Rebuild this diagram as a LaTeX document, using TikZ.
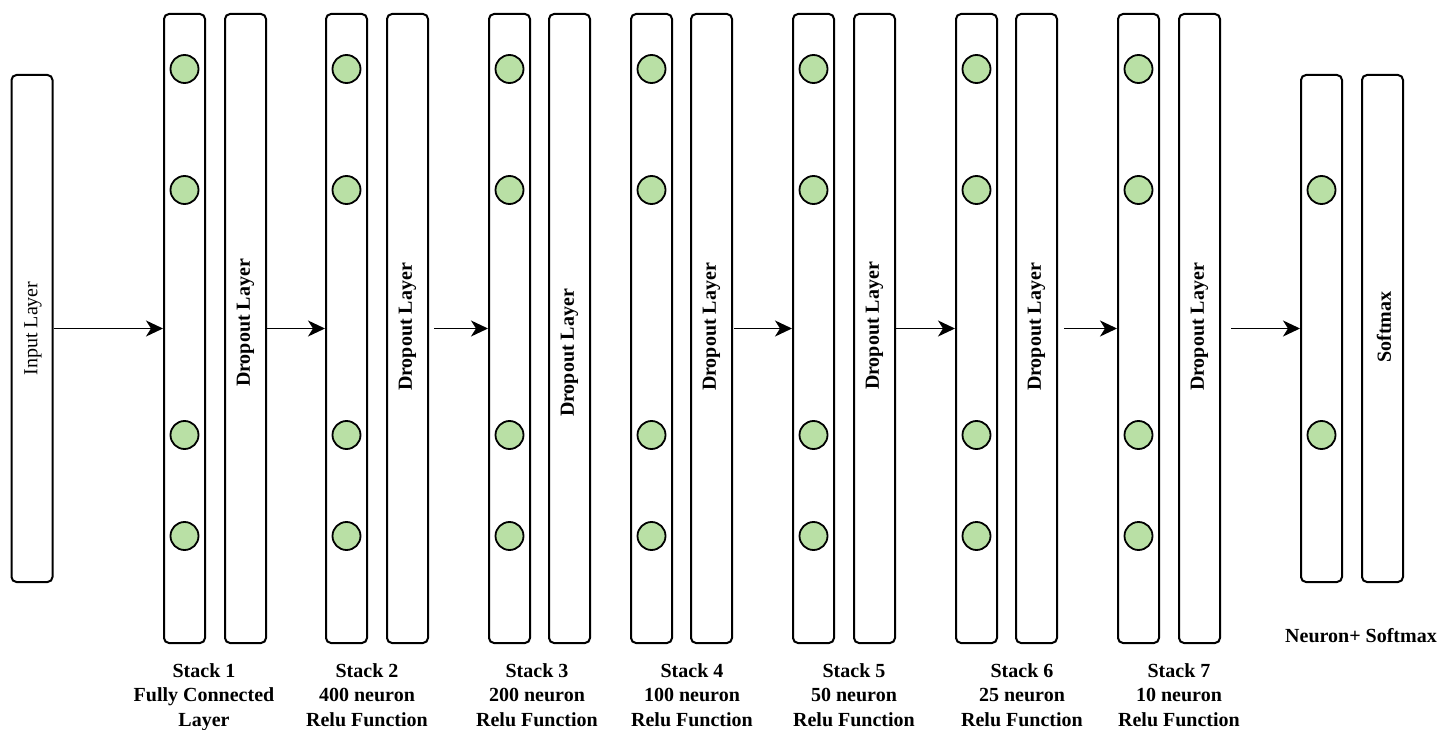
\documentclass[tikz,border=0pt]{standalone}
\usepackage{fontspec}
\setmainfont{Liberation Serif}
\usetikzlibrary{arrows.meta}
\definecolor{neurongreen}{HTML}{B9E0A5}

\begin{document}
\begin{tikzpicture}[x=1pt,y=-1pt,
  layerbox/.style={draw, line width=2pt, rounded corners=5pt,
    minimum width=41pt, inner sep=0pt},
  tallbox/.style={layerbox, minimum height=629pt},
  shortbox/.style={layerbox, minimum height=507pt},
  neuron/.style={circle, draw, line width=1.8pt, fill=neurongreen,
    minimum size=28pt, inner sep=0pt},
  link/.style={line width=1.8pt, -{Stealth[length=17pt,width=16pt,inset=5pt]}},
  boxtext/.style={font=\fontsize{20}{25}\selectfont\bfseries, rotate=90, inner sep=0pt},
  caption/.style={font=\fontsize{20}{24.5}\selectfont\bfseries, align=center,
    anchor=north, inner sep=0pt}]

\useasboundingbox (0,0) rectangle (1441,730);

% input layer
\node[shortbox] (inp) at (32,328.5) {};
\node[font=\fontsize{20}{25}\selectfont, rotate=90, inner sep=0pt] (inptext) at (33,328.5) {Input Layer};

% the seven stacks: dense layer with neurons + dropout layer
\foreach \i/\nx/\dx/\ty in {1/184.5/245.5/323, 2/346.5/407.5/327, 3/509.5/569.5/353,
    4/651.5/711.5/327, 5/813.5/874.5/326, 6/976.5/1036.5/327, 7/1138.5/1199.5/327} {
  \node[tallbox] (s\i-n) at (\nx,328.5) {};
  \node[tallbox] (s\i-d) at (\dx,328.5) {};
  \foreach \y in {69,190,435,536}
    \node[neuron] (s\i-c\y) at (\nx,\y) {};
  \node[boxtext] (s\i-t) at (\dx,\ty) {Dropout Layer};
}

% output neuron layer + softmax
\node[shortbox] (out) at (1321.5,328.5) {};
\node[shortbox] (sm) at (1382.5,328.5) {};
\node[neuron] (out-c1) at (1321.5,190) {};
\node[neuron] (out-c2) at (1321.5,435) {};
\node[boxtext] (smtext) at (1384,327) {Softmax};

% connections
\draw[link] (inp.east) -- (s1-n.west);
\draw[link] (s1-d.east) -- (s2-n.west);
\draw[link, shorten <=5pt] (s2-d.east) -- (s3-n.west);
\draw[link, shorten <=1pt] (s4-d.east) -- (s5-n.west);
\draw[link] (s5-d.east) -- (s6-n.west);
\draw[link, shorten <=6pt] (s6-d.east) -- (s7-n.west);
\draw[link, shorten <=10pt] (s7-d.east) -- (out.west);

% captions
\node[caption] (cap1) at (204,663) {Stack 1\\Fully Connected\\Layer};
\node[caption] (cap2) at (367,663) {Stack 2\\400 neuron\\Relu Function};
\node[caption] (cap3) at (537,663) {Stack 3\\200 neuron\\Relu Function};
\node[caption] (cap4) at (692,663) {Stack 4\\100 neuron\\Relu Function};
\node[caption] (cap5) at (854,663) {Stack 5\\50 neuron\\Relu Function};
\node[caption] (cap6) at (1022,663) {Stack 6\\25 neuron\\Relu Function};
\node[caption] (cap7) at (1179,663) {Stack 7\\10 neuron\\Relu Function};
\node[caption, anchor=base] (capout) at (1361,642) {Neuron+ Softmax};

\end{tikzpicture}
\end{document}
